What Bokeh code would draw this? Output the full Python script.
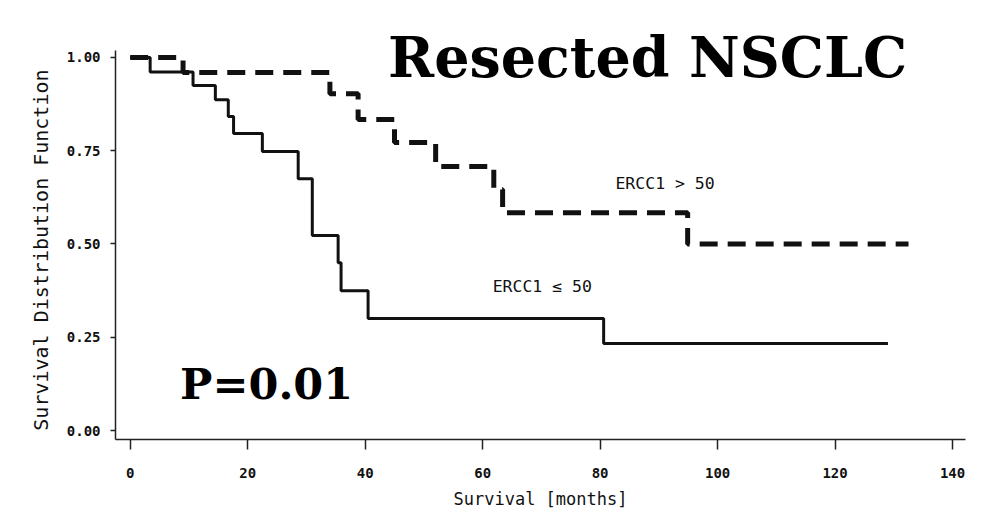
from bokeh.plotting import figure
from bokeh.models import Range1d, FixedTicker, NumeralTickFormatter, Label
from bokeh.embed import file_html
from bokeh.resources import INLINE

# Kaplan-Meier step data
low_t = [0, 3.4, 10.7, 14.5, 16.7, 17.6, 22.5, 28.6, 31.0, 35.4, 35.9, 40.5, 80.6, 129.0]
low_s = [1.0, 0.961, 0.925, 0.887, 0.842, 0.796, 0.748, 0.675, 0.523, 0.45, 0.375, 0.30, 0.233, 0.233]

high_t = [0, 9.0, 34.0, 38.8, 45.0, 52.0, 61.9, 63.4, 94.9, 132.5]
high_s = [1.0, 0.96, 0.903, 0.834, 0.772, 0.708, 0.646, 0.584, 0.50, 0.50]

x_ticks = [0, 20, 40, 60, 80, 100, 120, 140]
y_ticks = [0.0, 0.25, 0.50, 0.75, 1.00]

y_lo, y_axis_top, y_frame_top = -0.0241, 1.019, 1.1206

p = figure(width=997, height=512, output_backend="svg", toolbar_location=None,
           x_range=Range1d(-2.5, 142.2), y_range=Range1d(y_lo, y_frame_top))
p.min_border_left = 115
p.min_border_right = 32
p.min_border_top = 12
p.min_border_bottom = 73
p.outline_line_color = None
p.background_fill_color = "white"
p.border_fill_color = "white"
p.grid.visible = False

mono = "DejaVu Sans Mono"

p.xaxis.ticker = FixedTicker(ticks=x_ticks)
p.yaxis.ticker = FixedTicker(ticks=y_ticks)
p.yaxis.formatter = NumeralTickFormatter(format="0.00")
p.yaxis.bounds = (y_lo, y_axis_top)
for ax in (p.xaxis, p.yaxis):
    ax.axis_line_color = "#222222"
    ax.axis_line_width = 1.5
    ax.major_tick_line_color = "#222222"
    ax.major_tick_line_width = 1.5
    ax.minor_tick_line_color = None
    ax.major_tick_in = 0
    ax.major_label_text_font = mono
    ax.major_label_text_font_size = "14px"
    ax.major_label_text_font_style = "bold"
    ax.major_label_text_color = "#111111"
    ax.axis_label_text_font = mono
    ax.axis_label_text_font_style = "normal"
    ax.axis_label_text_color = "#111111"

p.xaxis.major_tick_out = 10
p.xaxis.major_label_standoff = 18
p.xaxis.axis_label = "Survival [months]"
p.xaxis.axis_label_text_font_size = "17px"
p.xaxis.axis_label_standoff = 8

p.yaxis.major_tick_out = 5
p.yaxis.major_label_standoff = 10
# trailing no-break spaces shift the rotated title down to sit beside the drawn axis
p.yaxis.axis_label = "Survival Distribution Function" + "\u00a0" * 4
p.yaxis.axis_label_text_font_size = "20px"
p.yaxis.axis_label_standoff = 11

p.step(low_t, low_s, mode="after", line_color="#111111", line_width=3)
p.step(high_t, high_s, mode="after", line_color="#111111", line_width=5,
       line_dash="18 10")

p.add_layout(Label(x=82.6, y=0.662, text="ERCC1 > 50", text_font=mono,
                   text_font_size="16.5px", text_baseline="middle", text_color="#111111"))
p.add_layout(Label(x=61.7, y=0.385, text="ERCC1 ≤ 50", text_font=mono,
                   text_font_size="16.5px", text_baseline="middle", text_color="#111111"))
p.add_layout(Label(x=43.9, y=1.0, text="Resected NSCLC", text_font="DejaVu Serif",
                   text_font_style="bold", text_font_size="55.5px",
                   text_baseline="middle", text_color="#000000"))
p.add_layout(Label(x=8.5, y=0.125, text="P=0.01", text_font="DejaVu Serif",
                   text_font_style="bold", text_font_size="43px",
                   text_baseline="middle", text_color="#000000"))

open("out.html", "w").write(file_html(p, INLINE))
